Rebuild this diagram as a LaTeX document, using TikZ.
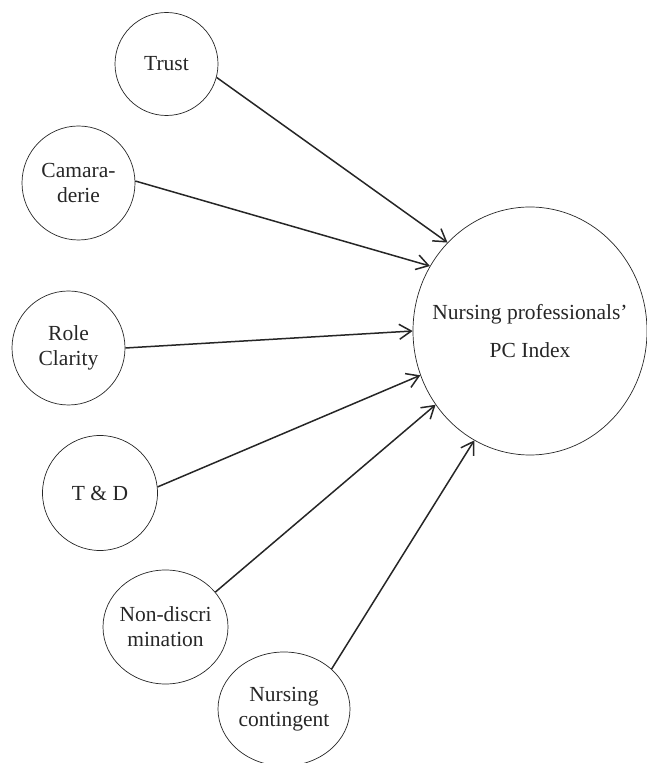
\documentclass[tikz,border=0pt]{standalone}
\usepackage{fontspec}
\setmainfont{Liberation Serif}
\usetikzlibrary{shapes.geometric,arrows.meta}

\begin{document}
\begin{tikzpicture}[x=1pt, y=1pt,
  factor/.style={ellipse, draw=black!85, line width=0.7pt, inner sep=0pt},
  ftext/.style={align=center, font=\fontsize{21.5}{25}\selectfont, text=black!85},
  link/.style={-{Straight Barb[length=12pt,width=15pt,line width=1.5pt]}, line width=1.5pt, black!85}]
\useasboundingbox (0,0) rectangle (647,763);

\node[factor, minimum width=103pt, minimum height=103pt, label={[ftext]center:Trust}] (trust) at (166.5,699) {};
\node[factor, minimum width=113pt, minimum height=114pt, label={[ftext]center:Camara-\\derie}] (camaraderie) at (78.5,580) {};
\node[factor, minimum width=113pt, minimum height=114pt, label={[ftext]center:Role\\Clarity}] (role) at (68.5,415) {};
\node[factor, minimum width=115pt, minimum height=115pt, label={[ftext]center:T \& D}] (td) at (100,270) {};
\node[factor, minimum width=125pt, minimum height=114pt, label={[ftext]center:Non-discri\\mination}] (nondisc) at (165.5,136) {};
\node[factor, minimum width=132pt, minimum height=114pt, label={[ftext]center:Nursing\\contingent}] (contingent) at (284,54) {};

\node[factor, minimum width=234pt, minimum height=248pt,
  label={[ftext]center:Nursing professionals'\\[13pt]PC Index}] (pcindex) at (530,432) {};

\draw[link] (trust.-15) -- (pcindex.133);
\draw[link] (camaraderie.2) -- (pcindex.147);
\draw[link] (role.0) -- (pcindex.180);
\draw[link] (td.6) -- (pcindex.202);
\draw[link] (nondisc.35) -- (pcindex.218);
\draw[link] (contingent.40) -- (pcindex.243);
\end{tikzpicture}
\end{document}
